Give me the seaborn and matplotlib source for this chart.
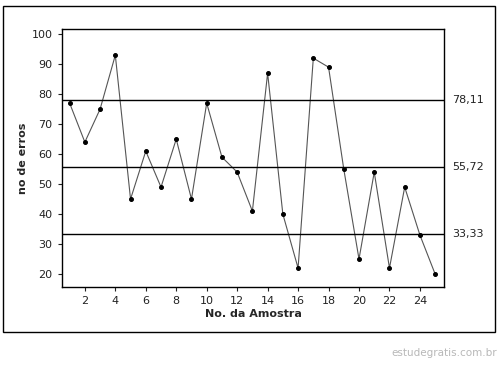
import numpy as np
import pandas as pd
import matplotlib
matplotlib.use("Agg")
import matplotlib.pyplot as plt
import seaborn as sns
from matplotlib.patches import Rectangle

# Dados do gráfico de controle
amostras = list(range(1, 26))
erros = [77, 64, 75, 93, 45, 61, 49, 65, 45, 77, 59, 54, 41, 87, 40,
         22, 92, 89, 55, 25, 54, 22, 49, 33, 20]
limites = [78.11, 55.72, 33.33]
rotulos_limites = ["78,11", "55,72", "33,33"]

df = pd.DataFrame({"amostra": amostras, "erros": erros})

sns.set_style("white")
plt.rcParams['font.family'] = ['DejaVu Sans']

fig = plt.figure(figsize=(5, 3.67), dpi=100)
ax = fig.add_axes([0.1234, 0.218, 0.7652, 0.702])

sns.lineplot(data=df, x="amostra", y="erros", ax=ax, color="#555555",
             linewidth=0.8, marker="o", markersize=2.8,
             markerfacecolor="black", markeredgecolor="black")

for lim, rot in zip(limites, rotulos_limites):
    ax.axhline(lim, color="black", linewidth=1.0)
    ax.text(1.02, lim, rot, transform=ax.get_yaxis_transform(),
            va="center", ha="left", fontsize=8, color="#222222")

ax.set_xlim(0.48, 25.6)
ax.set_ylim(15.7, 101.6)
ax.set_xticks(range(2, 25, 2))
ax.set_yticks(range(20, 101, 10))
ax.tick_params(axis="both", which="both", direction="out", length=3,
               width=0.8, labelsize=8, colors="#222222", left=True, bottom=True)
for s in ax.spines.values():
    s.set_color("black")
    s.set_linewidth(1.0)

ax.set_xlabel("No. da Amostra", fontsize=8, fontweight="bold", labelpad=2)
ax.set_ylabel("no de erros", fontsize=8, fontweight="bold", labelpad=3)

# Moldura externa
fig.patches.append(Rectangle((0.005, 0.095), 0.985, 0.89, transform=fig.transFigure,
                             fill=False, edgecolor="black", linewidth=1.0))

fig.text(0.994, 0.025, "estudegratis.com.br", ha="right", va="bottom",
         fontsize=7.5, color="#b8b8b8")

fig.savefig("out.png", dpi=100)
